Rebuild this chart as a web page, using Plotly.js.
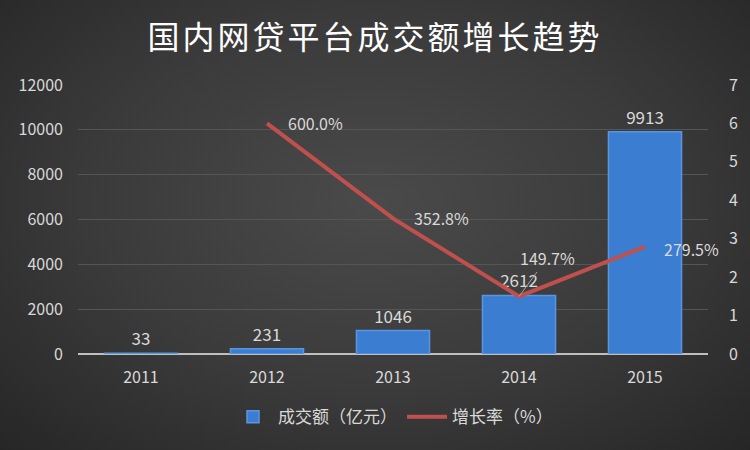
<!DOCTYPE html>
<html><head><meta charset="utf-8">
<script src="https://cdn.plot.ly/plotly-3.0.1.min.js"></script>
<style>
html,body{margin:0;padding:0;}
body{width:750px;height:450px;background:radial-gradient(ellipse at 50% 45%, #4a4a4a 0%, #3a3a3a 55%, #262626 100%);}
#chart{width:750px;height:450px;}
.gtitle{letter-spacing:3px;}
</style></head>
<body><div id="chart"></div>
<script>
const years = ['2011','2012','2013','2014','2015'];
const volume = [33, 231, 1046, 2612, 9913];
const growthYears = ['2012','2013','2014','2015'];
const growth = [6.0, 3.528, 1.497, 2.795];
const growthLabels = ['600.0%','352.8%','149.7%','279.5%'];
const seriesNames = ['成交额（亿元）','增长率（%）'];
const titleText = '国内网贷平台成交额增长趋势';

const fontFam = 'Noto Sans CJK SC, Noto Sans, sans-serif';
const labelOffsets = [[48,0],[48,0],[28,-38],[46,2]];

const traces = [
  {type:'bar', x:years, y:volume, name:seriesNames[0], width:0.58,
   marker:{color:'#3b7dd1', line:{color:'#5a96e0', width:1.5}},
   text:volume.map(String), textposition:'outside', cliponaxis:false,
   textfont:{color:'#d9d9d9', size:17, family:fontFam}, hoverinfo:'skip'},
  {type:'scatter', mode:'lines', x:growthYears, y:growth, yaxis:'y2', name:seriesNames[1],
   line:{color:'#c0504d', width:4}, hoverinfo:'skip'}
];

const annotations = growthYears.map((yr,i)=>({
  x:years.indexOf(yr), y:growth[i], xref:'x', yref:'y2', text:growthLabels[i],
  showarrow:true, arrowhead:0,
  arrowcolor: i===2 ? '#a6a6a6' : 'rgba(0,0,0,0)', arrowwidth:1,
  ax: labelOffsets[i][0], ay: labelOffsets[i][1],
  font:{color:'#d9d9d9', size:16, family:fontFam}
}));

const layout = {
  width:750, height:450,
  paper_bgcolor:'rgba(0,0,0,0)', plot_bgcolor:'rgba(0,0,0,0)',
  margin:{l:78, r:42, t:85, b:96},
  title:{text:titleText, x:0.5, xanchor:'center', y:0.915, yanchor:'middle',
         font:{color:'#ffffff', size:32, family:fontFam}},
  font:{family:fontFam, color:'#d9d9d9'},
  xaxis:{type:'category', showgrid:false, zeroline:false, showline:false,
         tickfont:{color:'#d9d9d9', size:16}, ticks:'', range:[-0.5,4.5], ticklabelstandoff:12},
  yaxis:{range:[0,12000], dtick:2000, tickformat:'d', showgrid:true, gridcolor:'#555555', gridwidth:1,
         zeroline:true, zerolinecolor:'#bfbfbf', zerolinewidth:2,
         tickfont:{color:'#d9d9d9', size:16}, ticks:'', ticklabelstandoff:14, showline:false},
  yaxis2:{range:[0,7], dtick:1, overlaying:'y', side:'right', showgrid:false, zeroline:false,
          tickfont:{color:'#d9d9d9', size:16}, ticks:'', showline:false, ticklabelstandoff:20},
  legend:{orientation:'h', x:0.5, xanchor:'center', y:-0.235, yanchor:'middle',
          font:{color:'#d9d9d9', size:17, family:fontFam}, itemwidth:40},
  annotations:annotations,
  showlegend:true
};

Plotly.newPlot('chart', traces, layout, {staticPlot:true});
</script></body></html>
